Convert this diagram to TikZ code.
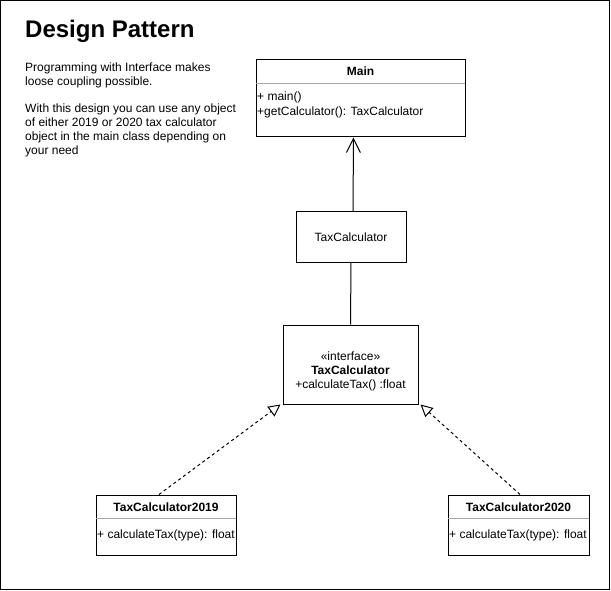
\documentclass[tikz,border=0pt]{standalone}
\usepackage{fontspec}
\setmainfont{Liberation Sans}
\usetikzlibrary{arrows.meta,calc}
\begin{document}
\begin{tikzpicture}[x=1pt,y=-1pt,
  txt/.style={inner sep=0, font=\fontsize{12}{14}\selectfont},
  boldtxt/.style={inner sep=0, font=\fontsize{12}{14}\selectfont\bfseries},
  umlbox/.style={draw, line width=1pt, inner sep=0, fill=white},
  divider/.style={draw=gray!70, line width=1pt},
  conn/.style={line width=1pt},
  realize/.style={line width=1pt, dash pattern=on 3pt off 3pt, -{Triangle[open,length=12pt,width=12pt,line width=1pt]}},
  assoc/.style={line width=1pt, -{Straight Barb[length=14pt,width=14pt,line width=1pt]}}
]
\useasboundingbox (0,0) rectangle (611,591);
\draw[line width=1pt] (0.5,0.5) rectangle (609.5,589.5);

% title and notes
\node[inner sep=0, anchor=base west, font=\fontsize{24}{28}\selectfont\bfseries] (title) at (25,38) {Design Pattern};
\node[txt, anchor=base west] (p1) at (25,72) {Programming with Interface makes};
\node[txt, anchor=base west] (p2) at (25,86) {loose coupling possible.};
\node[txt, anchor=base west] (p3) at (25,113) {With this design you can use any object};
\node[txt, anchor=base west] (p4) at (25,127) {of either 2019 or 2020 tax calculator};
\node[txt, anchor=base west] (p5) at (25,141) {object in the main class depending on};
\node[txt, anchor=base west] (p6) at (25,155) {your need};

% Main class
\node[umlbox, minimum width=209pt, minimum height=77pt] (main) at (360.5,98.5) {};
\draw[divider] ($(main.north west)+(0.5,24)$) -- ($(main.north east)+(-0.5,24)$);
\node[boldtxt, anchor=base] (mainT) at (360.5,76) {Main};
\node[txt, anchor=base west] (m1) at (257,101) {+ main()};
\node[txt, anchor=base west] (m2) at (257,116) {+getCalculator(): TaxCalculator};

% TaxCalculator box
\node[umlbox, minimum width=110pt, minimum height=50pt] (tc) at (351,237) {};
\node[txt] (tcT) at (351,237) {TaxCalculator};

% interface
\node[umlbox, minimum width=135pt, minimum height=79pt] (iface) at (350.5,364.5) {};
\node[txt, anchor=base] (i1) at (350.5,360) {«interface»};
\node[boldtxt, anchor=base] (i2) at (350.5,374) {TaxCalculator};
\node[txt, anchor=base] (i3) at (350.5,388) {+calculateTax() :float};

% TaxCalculator2019
\node[umlbox, minimum width=140pt, minimum height=60pt] (t19) at (166,525) {};
\draw[divider] ($(t19.north west)+(0.5,24)$) -- ($(t19.north east)+(-0.5,24)$);
\node[boldtxt, anchor=base] (t19T) at (166,511) {TaxCalculator2019};
\node[txt, anchor=base west] (t19m) at (97,538) {+ calculateTax(type): float};

% TaxCalculator2020
\node[umlbox, minimum width=141pt, minimum height=60pt] (t20) at (518.5,525) {};
\draw[divider] ($(t20.north west)+(0.5,24)$) -- ($(t20.north east)+(-0.5,24)$);
\node[boldtxt, anchor=base] (t20T) at (518.5,511) {TaxCalculator2020};
\node[txt, anchor=base west] (t20m) at (449,538) {+ calculateTax(type): float};

% connectors
\draw[conn] (iface.north) -- (tc.south);
\draw[assoc] ([xshift=2pt]tc.north) -- ([xshift=-7pt]main.south);
\draw[realize] ([xshift=-7pt]t19.north) -- ([xshift=-2pt]iface.south west);
\draw[realize] ([xshift=1.5pt]t20.north) -- ([xshift=2pt]iface.south east);
\end{tikzpicture}
\end{document}
